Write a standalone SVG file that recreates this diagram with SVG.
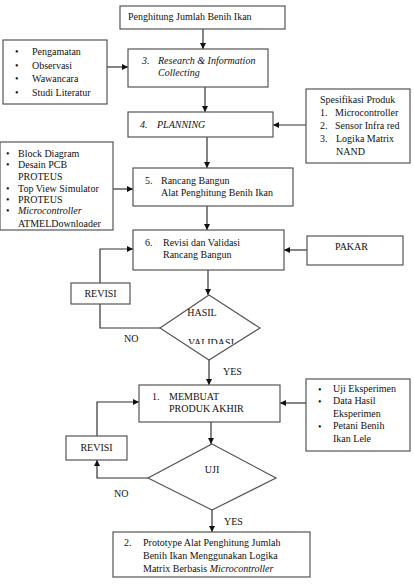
<svg xmlns="http://www.w3.org/2000/svg" width="414" height="586" viewBox="0 0 414 586">
<style>
.b{fill:#fff;stroke:#555;stroke-width:1.2}
.c{fill:none;stroke:#333;stroke-width:1.2}
text{font-family:"Liberation Serif","Times New Roman","DejaVu Serif",serif;font-size:10px;fill:#111}
.i{font-style:italic}
</style>
<defs>
<marker id="a" viewBox="0 0 10 10" refX="10" refY="5" markerWidth="6" markerHeight="6" orient="auto" markerUnits="userSpaceOnUse"><path d="M0,0L10,5L0,10z" fill="#111"/></marker>
<clipPath id="cl"><rect x="150" y="330" width="120" height="14"/></clipPath>
</defs>
<g id="connectors">
<line class="c" x1="203" y1="29" x2="203" y2="49" marker-end="url(#a)"/>
<line class="c" x1="107" y1="67" x2="128" y2="67" marker-end="url(#a)"/>
<line class="c" x1="205" y1="87" x2="205" y2="112" marker-end="url(#a)"/>
<line class="c" x1="306" y1="125" x2="273" y2="125" marker-end="url(#a)"/>
<line class="c" x1="207" y1="137" x2="207" y2="168" marker-end="url(#a)"/>
<line class="c" x1="113" y1="189" x2="133" y2="189" marker-end="url(#a)"/>
<line class="c" x1="207" y1="206" x2="207" y2="230" marker-end="url(#a)"/>
<line class="c" x1="307" y1="250" x2="284" y2="250" marker-end="url(#a)"/>
<line class="c" x1="208" y1="270" x2="208" y2="295" marker-end="url(#a)"/>
<polyline class="c" points="160,328 100,328 100,304"/>
<polyline class="c" points="100,283 100,249 133,249" marker-end="url(#a)"/>
<line class="c" x1="209" y1="360" x2="209" y2="385" marker-end="url(#a)"/>
<line class="c" x1="306" y1="403" x2="280" y2="403" marker-end="url(#a)"/>
<polyline class="c" points="97,436 97,402 139,402" marker-end="url(#a)"/>
<line class="c" x1="211" y1="422" x2="211" y2="444" marker-end="url(#a)"/>
<polyline class="c" points="148,478 97,478 97,460" marker-end="url(#a)"/>
<line class="c" x1="212" y1="510" x2="212" y2="532" marker-end="url(#a)"/>
</g>
<g id="n-top"><rect class="b" x="120" y="6" width="165" height="23"/><text x="128" y="20">Penghitung Jumlah Benih Ikan</text></g>
<g id="n-research"><rect class="b" x="128" y="49" width="140" height="38"/><text class="i" x="142" y="64" font-size="11">3.<tspan x="158">Research &amp; Information</tspan></text><text class="i" x="158" y="76">Collecting</text></g>
<g id="n-left1"><rect class="b" x="3" y="40" width="104" height="64"/>
<text x="15" y="55">•</text><text x="32" y="55">Pengamatan</text>
<text x="15" y="69">•</text><text x="32" y="69">Observasi</text>
<text x="15" y="82">•</text><text x="32" y="82">Wawancara</text>
<text x="15" y="96">•</text><text x="32" y="96">Studi Literatur</text></g>
<g id="n-planning"><rect class="b" x="128" y="112" width="145" height="25"/><text class="i" x="140" y="128">4.<tspan x="157">PLANNING</tspan></text></g>
<g id="n-spek"><rect class="b" x="306" y="89" width="104" height="74"/>
<text x="320" y="103">Spesifikasi Produk</text>
<text x="320" y="116">1.</text><text x="335" y="116">Microcontroller</text>
<text x="320" y="129">2.</text><text x="335" y="129">Sensor Infra red</text>
<text x="320" y="142">3.</text><text x="336" y="142">Logika Matrix</text>
<text x="336" y="155">NAND</text></g>
<g id="n-left2"><rect class="b" x="0" y="142" width="113" height="88"/>
<text x="6" y="157">•</text><text x="18" y="157">Block Diagram</text>
<text x="6" y="168">•</text><text x="18" y="168">Desain PCB</text>
<text x="18" y="180">PROTEUS</text>
<text x="6" y="192">•</text><text x="18" y="192">Top View Simulator</text>
<text x="6" y="203">•</text><text x="18" y="203">PROTEUS</text>
<text x="6" y="214">•</text><text class="i" x="18" y="214">Microcontroller</text>
<text x="18" y="227">ATMELDownloader</text></g>
<g id="n-rancang"><rect class="b" x="133" y="168" width="160" height="38"/><text x="145" y="184">5.<tspan x="161">Rancang Bangun</tspan></text><text x="161" y="196">Alat Penghitung Benih Ikan</text></g>
<g id="n-validasi"><rect class="b" x="133" y="230" width="151" height="40"/><text x="145" y="246" font-size="11">6.<tspan x="163">Revisi dan Validasi</tspan></text><text x="163" y="258">Rancang Bangun</text></g>
<g id="n-pakar"><rect class="b" x="307" y="236" width="96" height="29"/><text x="335" y="250">PAKAR</text></g>
<g id="n-revisi1"><rect class="b" x="71" y="283" width="59" height="21"/><text x="100.5" y="297" text-anchor="middle">REVISI</text></g>
<g id="n-hasil"><polygon class="b" points="209,295 260,328 209,360 160,328"/><text x="202" y="316" text-anchor="middle">HASIL</text><text x="211" y="346" text-anchor="middle" clip-path="url(#cl)">VALIDASI</text></g>
<text x="124" y="342">NO</text>
<text x="223" y="375">YES</text>
<g id="n-membuat"><rect class="b" x="139" y="385" width="141" height="37"/><text x="152" y="400">1.<tspan x="169">MEMBUAT</tspan></text><text x="169" y="412">PRODUK AKHIR</text></g>
<g id="n-uji-list"><rect class="b" x="306" y="379" width="104" height="72"/>
<text x="318" y="393">•</text><text x="333" y="392">Uji Eksperimen</text>
<text x="318" y="405">•</text><text x="333" y="404">Data Hasil</text>
<text x="333" y="417">Eksperimen</text>
<text x="318" y="430">•</text><text x="333" y="429" font-size="11">Petani Benih</text>
<text x="333" y="442" font-size="11">Ikan Lele</text></g>
<g id="n-revisi2"><rect class="b" x="66" y="436" width="61" height="24"/><text x="96.5" y="451" text-anchor="middle">REVISI</text></g>
<g id="n-uji"><polygon class="b" points="212,444 276,478 212,510 148,478"/><text x="212" y="473" text-anchor="middle">UJI</text></g>
<text x="114" y="497">NO</text>
<text x="224" y="525">YES</text>
<g id="n-final"><rect class="b" x="113" y="532" width="197" height="45"/>
<text x="124" y="546" font-size="11">2.<tspan x="143">Prototype Alat Penghitung Jumlah</tspan></text>
<text x="143" y="559" font-size="11">Benih Ikan Menggunakan Logika</text>
<text x="143" y="572" font-size="11">Matrix Berbasis <tspan class="i">Microcontroller</tspan></text></g>
</svg>
